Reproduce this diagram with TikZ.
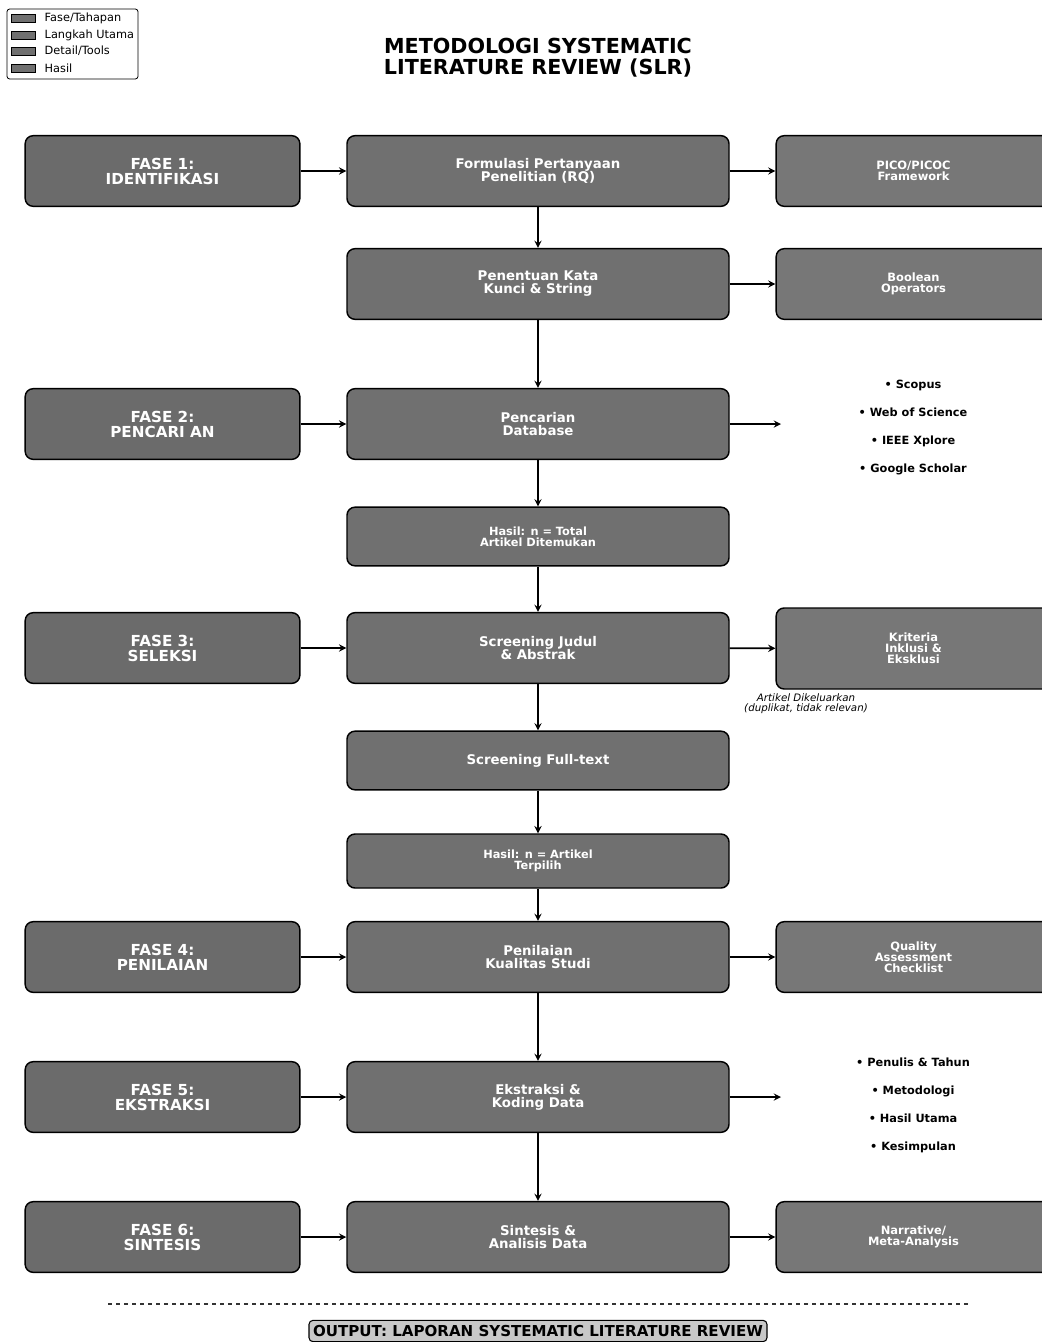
\documentclass[tikz,border=0pt]{standalone}
\usepackage{fontspec}
\setmainfont{DejaVu Sans}
\usepackage{xcolor}
\usepackage{tikz}
\usetikzlibrary{shapes.geometric, arrows}
\definecolor{phasegray}{HTML}{6B6B6B}
\definecolor{stepgray}{HTML}{707070}
\definecolor{detailgray}{HTML}{777777}
\definecolor{outgray}{HTML}{C8C8C8}
\tikzstyle{phase} = [rectangle, rounded corners=6pt, minimum width=206pt, minimum height=53pt, text centered, align=center, draw=black, line width=1.1pt, fill=phasegray, text=white, font=\fontsize{11.4}{11.2}\selectfont\bfseries]
\tikzstyle{stepbox} = [phase, minimum width=286.5pt, fill=stepgray, font=\fontsize{10}{9.8}\selectfont\bfseries]
\tikzstyle{result} = [stepbox, minimum height=44pt, font=\fontsize{8.5}{8.3}\selectfont\bfseries]
\tikzstyle{detail} = [phase, fill=detailgray, font=\fontsize{8.6}{8.3}\selectfont\bfseries]
\tikzstyle{toollist} = [align=center, font=\fontsize{8.5}{21}\selectfont\bfseries]
\tikzstyle{swatch} = [draw=black, line width=0.5pt, fill=stepgray]
\tikzstyle{arrow} = [line width=1.4pt,->,>=stealth]

\begin{document}
\begin{tikzpicture}[x=0.75pt, y=-0.75pt]
  \useasboundingbox (0,0) rectangle (1042,1342);

  % Legend
  \draw[line width=0.6pt, rounded corners=2pt] (7,9) rectangle (138,79);
  \foreach \i/\ypos/\txt in {1/18/Fase\slash Tahapan, 2/35/Langkah Utama, 3/51/Detail\slash Tools, 4/68/Hasil} {
    \draw[swatch] (11,\ypos-4) rectangle (35,\ypos+4);
    \node[anchor=west, font=\fontsize{8.5}{10}\selectfont] (leg\i) at (40,\ypos) {\txt};
  }

  % Title
  \node[align=center, font=\fontsize{15.5}{15.8}\selectfont\bfseries] (title) at (538,58) {METODOLOGI SYSTEMATIC\\LITERATURE REVIEW (SLR)};

  % Nodes
  \node (phase1) [phase] at (162.5,171) {FASE 1:\\IDENTIFIKASI};
  \node (step1) [stepbox] at (538,171) {Formulasi Pertanyaan\\Penelitian (RQ)};
  \node (det1) [detail] at (913.5,171) {PICO/PICOC\\Framework};

  \node (step2) [stepbox] at (538,284) {Penentuan Kata\\Kunci \& String};
  \node (det2) [detail] at (913.5,284) {Boolean\\Operators};

  \node (phase2) [phase] at (162.5,424) {FASE 2:\\PENCARI AN};
  \node (step3) [stepbox] at (538,424) {Pencarian\\Database};
  \coordinate (dbend) at (781,424);
  \node (dblist) [toollist] at (913,428) {• Scopus\\• Web of Science\\• IEEE Xplore\\• Google Scholar};

  \node (res1) [result] at (538,536.5) {Hasil: n = Total\\Artikel Ditemukan};

  \node (phase3) [phase] at (162.5,648) {FASE 3:\\SELEKSI};
  \node (step4) [stepbox] at (538,648) {Screening Judul\\\& Abstrak};
  \node (det3) [detail, minimum height=60.75pt] at (913.5,648.5) {Kriteria\\Inklusi \&\\Eksklusi};
  \node (excl) [align=center, font=\fontsize{7.7}{7.6}\selectfont\itshape] at (806,704) {Artikel Dikeluarkan\\(duplikat, tidak relevan)};

  \node (step5) [stepbox, minimum height=44pt] at (538,760.5) {Screening Full-text};
  \node (res2) [result, minimum height=40.5pt] at (538,861) {Hasil: n = Artikel\\Terpilih};

  \node (phase4) [phase] at (162.5,957) {FASE 4:\\PENILAIAN};
  \node (step6) [stepbox] at (538,957) {Penilaian\\Kualitas Studi};
  \node (det4) [detail] at (913.5,957) {Quality\\Assessment\\Checklist};

  \node (phase5) [phase] at (162.5,1097) {FASE 5:\\EKSTRAKSI};
  \node (step7) [stepbox] at (538,1097) {Ekstraksi \&\\Koding Data};
  \coordinate (exend) at (781,1097);
  \node (exlist) [toollist] at (913,1105) {• Penulis \& Tahun\\• Metodologi\\• Hasil Utama\\• Kesimpulan};

  \node (phase6) [phase] at (162.5,1237) {FASE 6:\\SINTESIS};
  \node (step8) [stepbox] at (538,1237) {Sintesis \&\\Analisis Data};
  \node (det5) [detail] at (913.5,1237) {Narrative/\\Meta-Analysis};

  % Output
  \coordinate (sepL) at (108,1304);
  \coordinate (sepR) at (968,1304);
  \draw[dashed, line width=0.8pt, black!80] (sepL) -- (sepR);
  \node (output) [draw=black, line width=0.8pt, rounded corners=3pt, fill=outgray, minimum height=16pt, inner xsep=3pt, inner ysep=2pt, font=\fontsize{11.3}{11.3}\selectfont\bfseries] at (538,1331) {OUTPUT: LAPORAN SYSTEMATIC LITERATURE REVIEW};

  % Arrows
  \draw [arrow] (phase1) -- (step1);
  \draw [arrow] (step1) -- (det1);
  \draw [arrow] (step1) -- (step2);
  \draw [arrow] (step2) -- (det2);
  \draw [arrow] (step2) -- (step3);
  \draw [arrow] (phase2) -- (step3);
  \draw [arrow] (step3.east) -- (dbend);
  \draw [arrow] (step3) -- (res1);
  \draw [arrow] (res1) -- (step4);
  \draw [arrow] (phase3) -- (step4);
  \draw [arrow] (step4) -- (det3);
  \draw [arrow] (step4) -- (step5);
  \draw [arrow] (step5) -- (res2);
  \draw [arrow] (res2) -- (step6);
  \draw [arrow] (phase4) -- (step6);
  \draw [arrow] (step6) -- (det4);
  \draw [arrow] (step6) -- (step7);
  \draw [arrow] (phase5) -- (step7);
  \draw [arrow] (step7.east) -- (exend);
  \draw [arrow] (step7) -- (step8);
  \draw [arrow] (phase6) -- (step8);
  \draw [arrow] (step8) -- (det5);

\end{tikzpicture}
\end{document}
